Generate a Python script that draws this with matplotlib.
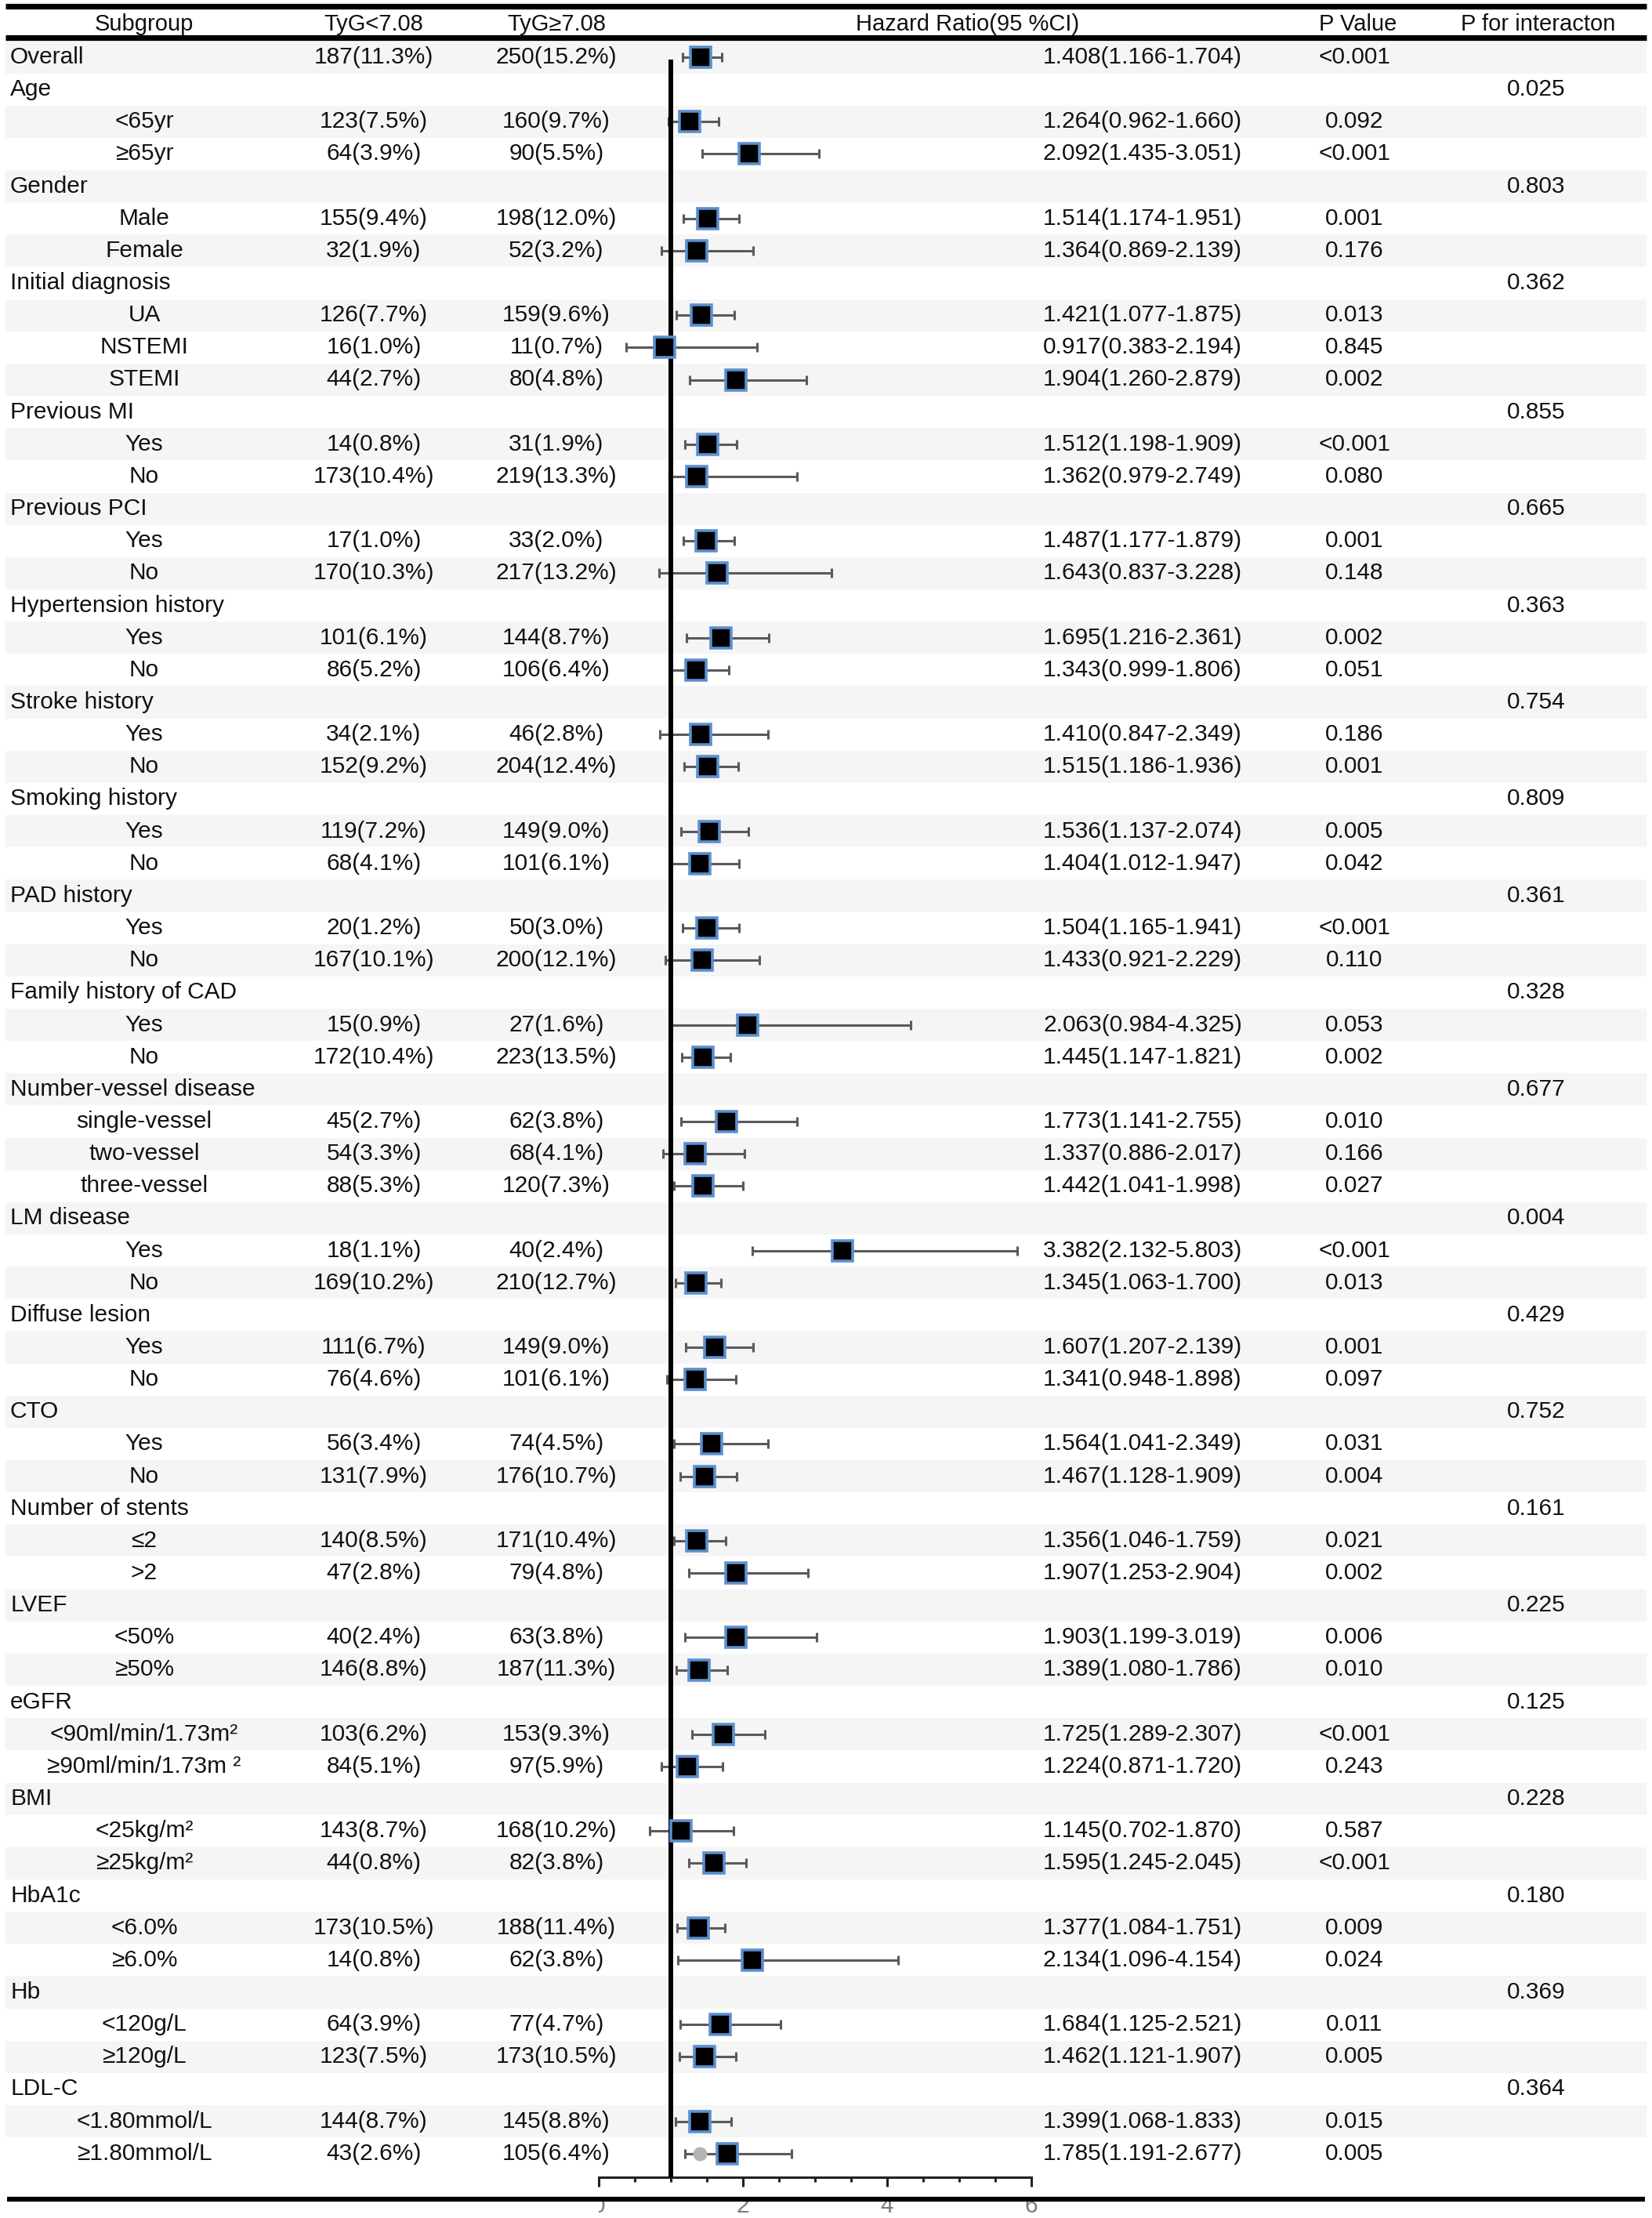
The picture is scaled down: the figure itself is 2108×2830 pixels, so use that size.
import matplotlib
matplotlib.use('Agg')
import matplotlib.pyplot as plt
from matplotlib.lines import Line2D
from matplotlib.ticker import MultipleLocator
from matplotlib.transforms import Bbox, TransformedBbox
import numpy as np

plt.rcParams['font.family'] = ['Liberation Sans', 'DejaVu Sans']

# ---------------- data ----------------
col_headers = ["Subgroup", "TyG<7.08", "TyG\u22657.08", "Hazard Ratio(95 %CI)",
               "P Value", "P for interacton"]

subgroups = [
    "Overall",
    "Age", "<65yr", "\u226565yr",
    "Gender", "Male", "Female",
    "Initial diagnosis", "UA", "NSTEMI", "STEMI",
    "Previous MI", "Yes", "No",
    "Previous PCI", "Yes", "No",
    "Hypertension history", "Yes", "No",
    "Stroke history", "Yes", "No",
    "Smoking history", "Yes", "No",
    "PAD history", "Yes", "No",
    "Family history of CAD", "Yes", "No",
    "Number-vessel disease", "single-vessel", "two-vessel", "three-vessel",
    "LM disease", "Yes", "No",
    "Diffuse lesion", "Yes", "No",
    "CTO", "Yes", "No",
    "Number of stents", "\u22642", ">2",
    "LVEF", "<50%", "\u226550%",
    "eGFR", "<90ml/min/1.73m\u00b2", "\u226590ml/min/1.73m \u00b2",
    "BMI", "<25kg/m\u00b2", "\u226525kg/m\u00b2",
    "HbA1c", "<6.0%", "\u22656.0%",
    "Hb", "<120g/L", "\u2265120g/L",
    "LDL-C", "<1.80mmol/L", "\u22651.80mmol/L",
]

# 0 = left aligned heading, 1 = centred sub-level
level = [0,
         0, 1, 1,
         0, 1, 1,
         0, 1, 1, 1,
         0, 1, 1,
         0, 1, 1,
         0, 1, 1,
         0, 1, 1,
         0, 1, 1,
         0, 1, 1,
         0, 1, 1,
         0, 1, 1, 1,
         0, 1, 1,
         0, 1, 1,
         0, 1, 1,
         0, 1, 1,
         0, 1, 1,
         0, 1, 1,
         0, 1, 1,
         0, 1, 1,
         0, 1, 1,
         0, 1, 1]

n_low = ["187(11.3%)",
         "", "123(7.5%)", "64(3.9%)",
         "", "155(9.4%)", "32(1.9%)",
         "", "126(7.7%)", "16(1.0%)", "44(2.7%)",
         "", "14(0.8%)", "173(10.4%)",
         "", "17(1.0%)", "170(10.3%)",
         "", "101(6.1%)", "86(5.2%)",
         "", "34(2.1%)", "152(9.2%)",
         "", "119(7.2%)", "68(4.1%)",
         "", "20(1.2%)", "167(10.1%)",
         "", "15(0.9%)", "172(10.4%)",
         "", "45(2.7%)", "54(3.3%)", "88(5.3%)",
         "", "18(1.1%)", "169(10.2%)",
         "", "111(6.7%)", "76(4.6%)",
         "", "56(3.4%)", "131(7.9%)",
         "", "140(8.5%)", "47(2.8%)",
         "", "40(2.4%)", "146(8.8%)",
         "", "103(6.2%)", "84(5.1%)",
         "", "143(8.7%)", "44(0.8%)",
         "", "173(10.5%)", "14(0.8%)",
         "", "64(3.9%)", "123(7.5%)",
         "", "144(8.7%)", "43(2.6%)"]

n_high = ["250(15.2%)",
          "", "160(9.7%)", "90(5.5%)",
          "", "198(12.0%)", "52(3.2%)",
          "", "159(9.6%)", "11(0.7%)", "80(4.8%)",
          "", "31(1.9%)", "219(13.3%)",
          "", "33(2.0%)", "217(13.2%)",
          "", "144(8.7%)", "106(6.4%)",
          "", "46(2.8%)", "204(12.4%)",
          "", "149(9.0%)", "101(6.1%)",
          "", "50(3.0%)", "200(12.1%)",
          "", "27(1.6%)", "223(13.5%)",
          "", "62(3.8%)", "68(4.1%)", "120(7.3%)",
          "", "40(2.4%)", "210(12.7%)",
          "", "149(9.0%)", "101(6.1%)",
          "", "74(4.5%)", "176(10.7%)",
          "", "171(10.4%)", "79(4.8%)",
          "", "63(3.8%)", "187(11.3%)",
          "", "153(9.3%)", "97(5.9%)",
          "", "168(10.2%)", "82(3.8%)",
          "", "188(11.4%)", "62(3.8%)",
          "", "77(4.7%)", "173(10.5%)",
          "", "145(8.8%)", "105(6.4%)"]

nan = np.nan
hr = [1.408,
      nan, 1.264, 2.092,
      nan, 1.514, 1.364,
      nan, 1.421, 0.917, 1.904,
      nan, 1.512, 1.362,
      nan, 1.487, 1.643,
      nan, 1.695, 1.343,
      nan, 1.410, 1.515,
      nan, 1.536, 1.404,
      nan, 1.504, 1.433,
      nan, 2.063, 1.445,
      nan, 1.773, 1.337, 1.442,
      nan, 3.382, 1.345,
      nan, 1.607, 1.341,
      nan, 1.564, 1.467,
      nan, 1.356, 1.907,
      nan, 1.903, 1.389,
      nan, 1.725, 1.224,
      nan, 1.145, 1.595,
      nan, 1.377, 2.134,
      nan, 1.684, 1.462,
      nan, 1.399, 1.785]

ci_low = [1.166,
          nan, 0.962, 1.435,
          nan, 1.174, 0.869,
          nan, 1.077, 0.383, 1.260,
          nan, 1.198, 0.979,
          nan, 1.177, 0.837,
          nan, 1.216, 0.999,
          nan, 0.847, 1.186,
          nan, 1.137, 1.012,
          nan, 1.165, 0.921,
          nan, 0.984, 1.147,
          nan, 1.141, 0.886, 1.041,
          nan, 2.132, 1.063,
          nan, 1.207, 0.948,
          nan, 1.041, 1.128,
          nan, 1.046, 1.253,
          nan, 1.199, 1.080,
          nan, 1.289, 0.871,
          nan, 0.702, 1.245,
          nan, 1.084, 1.096,
          nan, 1.125, 1.121,
          nan, 1.068, 1.191]

ci_high = [1.704,
           nan, 1.660, 3.051,
           nan, 1.951, 2.139,
           nan, 1.875, 2.194, 2.879,
           nan, 1.909, 2.749,
           nan, 1.879, 3.228,
           nan, 2.361, 1.806,
           nan, 2.349, 1.936,
           nan, 2.074, 1.947,
           nan, 1.941, 2.229,
           nan, 4.325, 1.821,
           nan, 2.755, 2.017, 1.998,
           nan, 5.803, 1.700,
           nan, 2.139, 1.898,
           nan, 2.349, 1.909,
           nan, 1.759, 2.904,
           nan, 3.019, 1.786,
           nan, 2.307, 1.720,
           nan, 1.870, 2.045,
           nan, 1.751, 4.154,
           nan, 2.521, 1.907,
           nan, 1.833, 2.677]

p_value = ["<0.001",
           "", "0.092", "<0.001",
           "", "0.001", "0.176",
           "", "0.013", "0.845", "0.002",
           "", "<0.001", "0.080",
           "", "0.001", "0.148",
           "", "0.002", "0.051",
           "", "0.186", "0.001",
           "", "0.005", "0.042",
           "", "<0.001", "0.110",
           "", "0.053", "0.002",
           "", "0.010", "0.166", "0.027",
           "", "<0.001", "0.013",
           "", "0.001", "0.097",
           "", "0.031", "0.004",
           "", "0.021", "0.002",
           "", "0.006", "0.010",
           "", "<0.001", "0.243",
           "", "0.587", "<0.001",
           "", "0.009", "0.024",
           "", "0.011", "0.005",
           "", "0.015", "0.005"]

p_interaction = ["",
                 "0.025", "", "",
                 "0.803", "", "",
                 "0.362", "", "", "",
                 "0.855", "", "",
                 "0.665", "", "",
                 "0.363", "", "",
                 "0.754", "", "",
                 "0.809", "", "",
                 "0.361", "", "",
                 "0.328", "", "",
                 "0.677", "", "", "",
                 "0.004", "", "",
                 "0.429", "", "",
                 "0.752", "", "",
                 "0.161", "", "",
                 "0.225", "", "",
                 "0.125", "", "",
                 "0.228", "", "",
                 "0.180", "", "",
                 "0.369", "", "",
                 "0.364", "", ""]

# stray grey dot visible in the last row of the original
extra_dot_row = [65]
extra_dot_x = [1.40]

x_major = [0, 2, 4, 6]

# ---------------- layout ----------------
W, H = 2108, 2830
fig = plt.figure(figsize=(W / 100, H / 100), dpi=100)
fig.patch.set_facecolor('white')

tab = fig.add_axes([0, 0, 1, 1])
tab.set_xlim(0, W)
tab.set_ylim(H, 0)
tab.axis('off')

n = len(subgroups)
row_y0, row_dy = 73.0, 41.15
ys = row_y0 + np.arange(n) * row_dy

FS = 21.5
left_edge, right_edge = 7, 2101

# alternating shading
for i in range(0, n, 2):
    tab.axhspan(ys[i] - row_dy / 2, ys[i] + row_dy / 2,
                xmin=left_edge / W, xmax=right_edge / W,
                color='#f5f5f5', lw=0, zorder=0)

# header lines
for yl in (8, 48):
    tab.plot([left_edge, right_edge], [yl, yl], color='black', lw=5.2,
             solid_capstyle='butt', zorder=3)

col_x = [184, 477, 710, 1235, 1733, 1963]
header_y = 31
for cx, txt in zip(col_x, col_headers):
    tab.text(cx, header_y, txt, ha='center', va='center', fontsize=FS - 0.5,
             color='#111111')

x_cat = 13
x_sub = 184
x_low = 477
x_high = 710
x_hr = 1458
x_p = 1728
x_pint = 1960

for i in range(n):
    y = ys[i]
    if level[i] == 0:
        tab.text(x_cat, y, subgroups[i], ha='left', va='center', fontsize=FS,
                 color='#111111')
    else:
        tab.text(x_sub, y, subgroups[i], ha='center', va='center', fontsize=FS,
                 color='#111111')
    if n_low[i]:
        tab.text(x_low, y, n_low[i], ha='center', va='center', fontsize=FS,
                 color='#111111')
    if n_high[i]:
        tab.text(x_high, y, n_high[i], ha='center', va='center', fontsize=FS,
                 color='#111111')
    if not np.isnan(hr[i]):
        tab.text(x_hr, y, f"{hr[i]:.3f}({ci_low[i]:.3f}-{ci_high[i]:.3f})",
                 ha='center', va='center', fontsize=FS, color='#111111')
    if p_value[i]:
        tab.text(x_p, y, p_value[i], ha='center', va='center', fontsize=FS,
                 color='#111111')
    if p_interaction[i]:
        tab.text(x_pint, y, p_interaction[i], ha='center', va='center',
                 fontsize=FS, color='#111111')

# ---------------- forest panel ----------------
ax_x0, ax_x1 = 764, 1316
axis_y = 2778
fax = fig.add_axes([ax_x0 / W, 0, (ax_x1 - ax_x0) / W, 1])
fax.patch.set_alpha(0)
fax.set_xlim(0, 6)
fax.set_ylim(H, 0)
for s in ('left', 'right', 'top'):
    fax.spines[s].set_visible(False)
fax.spines['bottom'].set_position(('data', axis_y))
fax.spines['bottom'].set_linewidth(2.2)
fax.spines['bottom'].set_color('#222222')
fax.set_yticks([])
fax.set_xticks(x_major)
fax.xaxis.set_minor_locator(MultipleLocator(0.5))
fax.tick_params(axis='x', which='major', direction='out', length=8.6, width=2.2,
                color='#222222', labelsize=FS, labelcolor='#7a7a7a', pad=8)
fax.tick_params(axis='x', which='minor', direction='out', length=4.3, width=2.2,
                color='#222222')

# the first tick label is cut at the panel's left edge in the original
clip_bb = TransformedBbox(Bbox([[ax_x0 / W, 0], [1, 1]]), fig.transFigure)
first_lbl = fax.xaxis.get_major_ticks()[0].label1
first_lbl.set_clip_box(clip_bb)
first_lbl.set_clip_on(True)

hr_a = np.array(hr)
lo_a = np.array(ci_low)
hi_a = np.array(ci_high)
mask = ~np.isnan(hr_a)

fax.errorbar(hr_a[mask], ys[mask],
             xerr=[hr_a[mask] - lo_a[mask], hi_a[mask] - hr_a[mask]],
             fmt='none', ecolor='#5a5a5a', elinewidth=2.2, capsize=4.6,
             capthick=2.2, zorder=3, clip_on=False)

fax.vlines(1, ys[0] + 3, axis_y, color='black', lw=4.3, zorder=4)

fax.plot(extra_dot_x, ys[extra_dot_row], 'o', ms=13, color='#b4b4b4',
         mec='none', zorder=4.5, clip_on=False)

fax.plot(hr_a[mask], ys[mask], 's', ms=19, mfc='black', mec='#5b8fd0',
         mew=2.6, zorder=5, clip_on=False)

# thick bottom rule drawn over the tick labels
fig.add_artist(Line2D([9 / W, 2099 / W], [1 - 2806 / H, 1 - 2806 / H],
                      transform=fig.transFigure, color='black', lw=4.5,
                      solid_capstyle='butt', zorder=10))

fig.savefig('out.png', dpi=100, facecolor='white')
